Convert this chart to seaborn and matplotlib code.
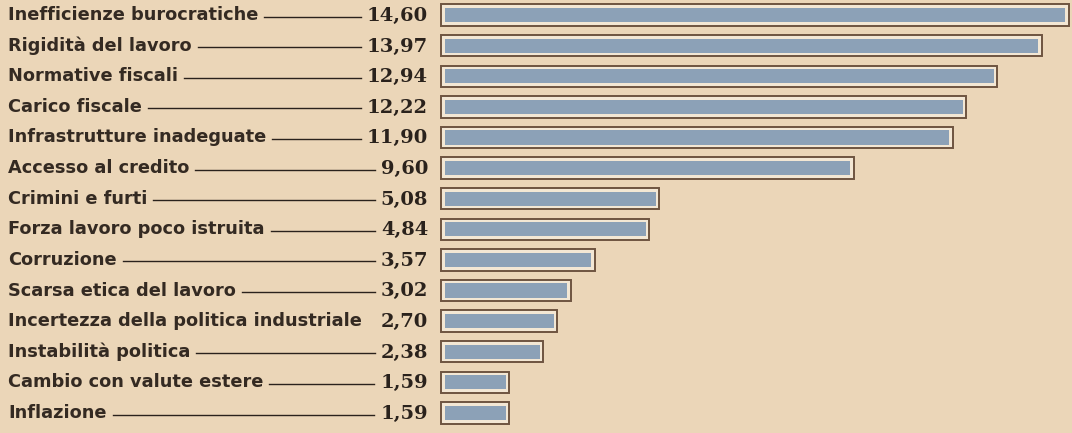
import matplotlib
matplotlib.use("Agg")
import matplotlib.pyplot as plt
import matplotlib.transforms as mtransforms
import seaborn as sns
import pandas as pd

categories = [
    "Inefficienze burocratiche",
    "Rigidità del lavoro",
    "Normative fiscali",
    "Carico fiscale",
    "Infrastrutture inadeguate",
    "Accesso al credito",
    "Crimini e furti",
    "Forza lavoro poco istruita",
    "Corruzione",
    "Scarsa etica del lavoro",
    "Incertezza della politica industriale",
    "Instabilità politica",
    "Cambio con valute estere",
    "Inflazione",
]
values = [14.60, 13.97, 12.94, 12.22, 11.90, 9.60, 5.08, 4.84, 3.57, 3.02, 2.70, 2.38, 1.59, 1.59]
value_labels = [f"{v:.2f}".replace(".", ",") for v in values]

paper = "#EBD6B8"
cream = "#F3E7D4"
blue = "#8CA1B7"
brown = "#6E5440"
ink = "#2A221C"

df = pd.DataFrame({"cat": categories, "val": values})

W, H = 1072, 433
fig = plt.figure(figsize=(W / 100, H / 100), dpi=100, facecolor=paper)
ax = fig.add_axes([0, 0, 1, 1])
ax.set_facecolor(paper)

# outer frames
sns.barplot(data=df, x="val", y="cat", orient="h", ax=ax, width=0.70,
            color=cream, edgecolor=brown, linewidth=1.4, saturation=1)
n = len(ax.patches)
# inner blue bars
sns.barplot(data=df, x="val", y="cat", orient="h", ax=ax, width=0.46,
            color=blue, linewidth=0, saturation=1)

k = 43.0  # pixels per unit
x0 = 441
ax.set_xlim(-x0 / k, (W - x0) / k)
ax.set_ylim(13 + 20 / 30.6, -15 / 30.6)

pad = 3.5 / k
for p in ax.patches[n:]:
    p.set_x(p.get_x() + pad)
    p.set_width(p.get_width() - 2 * pad)

ax.axis("off")

tr = mtransforms.blended_transform_factory(fig.transFigure, ax.transData)
renderer = fig.canvas.get_renderer()
for i, (c, vl) in enumerate(zip(categories, value_labels)):
    t1 = ax.text(8 / W, i, c, transform=tr, ha="left", va="center",
                 fontsize=12.8, family="DejaVu Sans", fontweight="bold",
                 color="#342a22", zorder=4)
    t2 = ax.text(428 / W, i + 0.03, vl, transform=tr, ha="right", va="center",
                 fontsize=14, family="DejaVu Serif", fontweight="bold",
                 color=ink, zorder=4)
    # leader line between label end and value start
    xa = t1.get_window_extent(renderer).x1 + 6
    xb = t2.get_window_extent(renderer).x0 - 6
    if xb - xa > 12:
        ax.plot([xa / W, xb / W], [i + 0.05, i + 0.05], transform=tr,
                color=ink, lw=1.0, zorder=3)

fig.savefig("out.png", dpi=100, facecolor=paper)
